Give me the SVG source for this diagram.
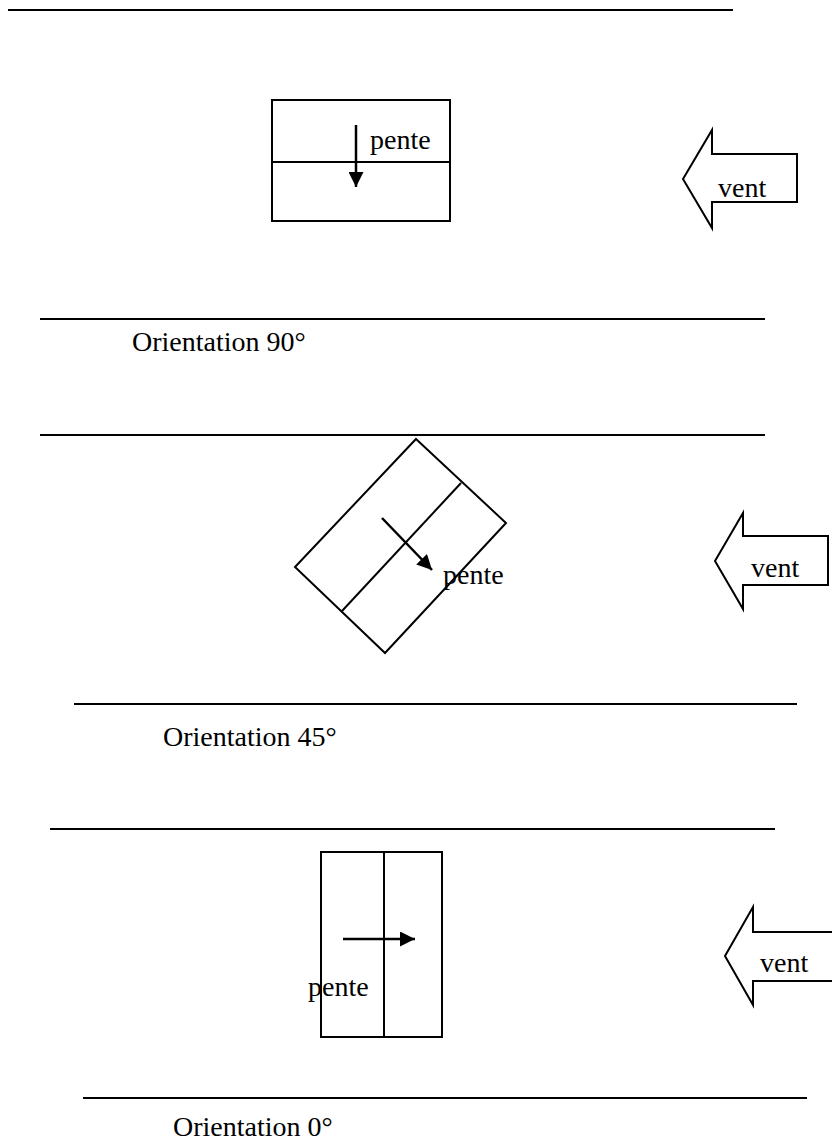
<svg xmlns="http://www.w3.org/2000/svg" width="832" height="1142" viewBox="0 0 832 1142">
<style>
.ln{stroke:#000;stroke-width:2;fill:none}
.box{stroke:#000;stroke-width:2;fill:#fff}
.ar{stroke:#000;stroke-width:2.5;fill:none}
.t{font-family:"Liberation Serif","Times New Roman",serif;font-size:28px;fill:#000}
</style>
<defs>
<marker id="ah" viewBox="0 0 10 10" refX="10" refY="5" markerWidth="6" markerHeight="6" markerUnits="strokeWidth" orient="auto"><path d="M0,0 L10,5 L0,10 z" fill="#000"/></marker>
</defs>
<rect width="832" height="1142" fill="#fff"/>
<g id="separators">
<line class="ln" x1="8" y1="10" x2="733" y2="10"/>
<line class="ln" x1="40" y1="319" x2="765" y2="319"/>
<line class="ln" x1="40" y1="435" x2="765" y2="435"/>
<line class="ln" x1="74" y1="704" x2="797" y2="704"/>
<line class="ln" x1="50" y1="829" x2="775" y2="829"/>
<line class="ln" x1="83" y1="1098" x2="807" y2="1098"/>
</g>
<g id="panel90">
<rect class="box" x="272" y="100" width="178" height="121"/>
<line class="ln" x1="272" y1="162" x2="450" y2="162"/>
<text class="t" x="370" y="149">pente</text>
</g>
<g id="wind90">
<path class="box" d="M683,179 L712,130 L712,154 L797,154 L797,202 L712,202 L712,228 Z"/>
<text class="t" x="718" y="197">vent</text>
</g>
<g id="label90"><text class="t" x="132" y="351">Orientation 90°</text></g>
<g id="panel45">
<path class="box" d="M416,439 L506,523 L385,653 L295,567 Z"/>
<line class="ln" x1="461" y1="483" x2="342" y2="611"/>
</g>
<g id="wind45">
<path class="box" d="M715,561 L743,513 L743,536 L828,536 L828,585 L743,585 L743,609 Z"/>
<text class="t" x="751" y="577">vent</text>
</g>
<g id="label45"><text class="t" x="163" y="746">Orientation 45°</text></g>
<g id="panel0">
<rect class="box" x="321" y="852" width="121" height="185"/>
<line class="ln" x1="384" y1="852" x2="384" y2="1037"/>
</g>
<g id="wind0">
<path class="box" d="M725,956 L753,907 L753,932 L840,932 L840,981 L753,981 L753,1005 Z"/>
<text class="t" x="760" y="972">vent</text>
</g>
<g id="label0"><text class="t" x="173" y="1136">Orientation 0°</text></g>
<g id="connectors">
<line class="ar" x1="356" y1="125" x2="356" y2="187" marker-end="url(#ah)"/>
<line class="ar" x1="382" y1="518" x2="432" y2="570" marker-end="url(#ah)"/>
<line class="ar" x1="343" y1="939" x2="415" y2="939" marker-end="url(#ah)"/>
</g>
<text class="t" x="443" y="584">pente</text>
<text class="t" x="308" y="996">pente</text>
</svg>
